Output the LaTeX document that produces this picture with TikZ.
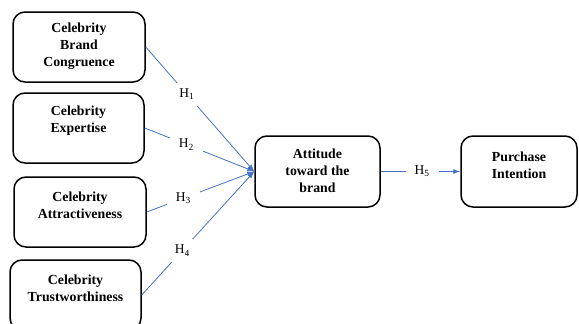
\documentclass[tikz,border=0pt]{standalone}
\usepackage{fontspec}
\setmainfont{Liberation Serif}
\usetikzlibrary{arrows.meta}
\definecolor{linkblue}{RGB}{68,114,196}
\tikzset{
  box/.style={draw=black, line width=1.5pt, rounded corners=12pt, inner sep=0pt},
  boxtext/.style={align=center, font=\fontsize{13.8}{17}\selectfont\bfseries, inner sep=0pt},
  conn/.style={draw=linkblue, line width=0.8pt, -{Latex[length=7pt,width=5pt]}},
  hlab/.style={fill=white, inner xsep=9pt, inner ysep=6pt, font=\fontsize{13.5}{15}\selectfont, text=black}
}
\begin{document}
\begin{tikzpicture}[x=1pt,y=-1pt]
  \useasboundingbox (0,0) rectangle (579,324);
  \clip (0,0) rectangle (579,324);

  % construct boxes
  \node[box, minimum width=132pt, minimum height=70pt] (b1) at (79,47) {};
  \node[box, minimum width=131pt, minimum height=70pt] (b2) at (78.5,128) {};
  \node[box, minimum width=132pt, minimum height=70pt] (b3) at (80,212) {};
  \node[box, minimum width=131pt, minimum height=70pt] (b4) at (75.5,295) {};
  \node[box, minimum width=125pt, minimum height=71pt] (att) at (317.5,171.5) {};
  \node[box, minimum width=116pt, minimum height=71pt] (pi) at (519,171.5) {};

  % box labels
  \node[boxtext] (t1) at (79,46) {Celebrity\\Brand\\Congruence};
  \node[boxtext] (t2) at (78.5,120.5) {Celebrity\\Expertise};
  \node[boxtext] (t3) at (80,205) {Celebrity\\Attractiveness};
  \node[boxtext] (t4) at (75.5,288.5) {Celebrity\\Trustworthiness};
  \node[boxtext] (ta) at (317.5,171) {Attitude\\toward the\\brand};
  \node[boxtext] (tp) at (519,165.5) {Purchase\\Intention};

  % hypothesised paths
  \draw[conn] (b1.east) -- node[hlab, pos=0.38] (h1) {H\textsubscript{1}} (att.west);
  \draw[conn] (b2.east) -- node[hlab, pos=0.38] (h2) {H\textsubscript{2}} (att.west);
  \draw[conn] (b3.east) -- node[hlab, pos=0.34] (h3) {H\textsubscript{3}} (att.west);
  \draw[conn] (b4.east) -- node[hlab, pos=0.36] (h4) {H\textsubscript{4}} (att.west);
  \draw[conn] (att.east) -- node[hlab, pos=0.52] (h5) {H\textsubscript{5}} (pi.west);
\end{tikzpicture}
\end{document}
